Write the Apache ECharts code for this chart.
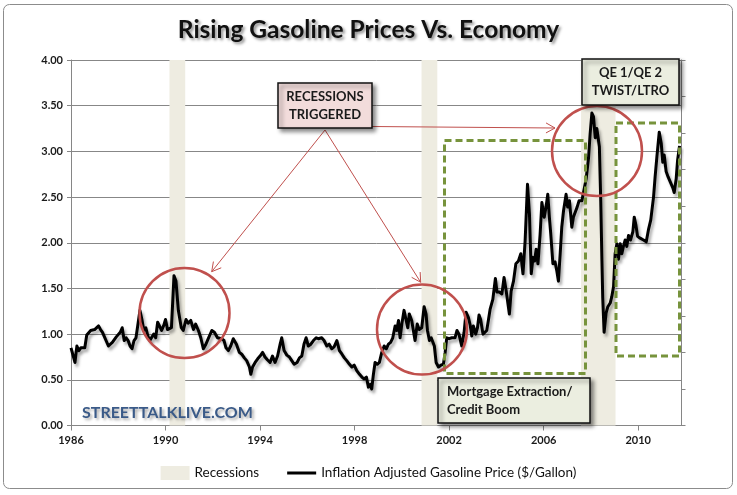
<!DOCTYPE html>
<html><head><meta charset="utf-8">
<script src="https://cdn.jsdelivr.net/npm/echarts@6/dist/echarts.min.js"></script>
<style>html,body{margin:0;padding:0;background:#fff}#c{width:737px;height:495px}</style>
</head><body><div id="c"></div>
<script>
// x values are month indices counted from the first observation (label "1986")
const tickLabels = ['1986','1990','1994','1998','2002','2006','2010'];
const monthsPerTick = 48;
const monthIdx = [0,1,2,3,4,5,7,8,9,10,12,14,15,16,17,19,20,21,23,24,25,26,27,28,29,30,31,32,33,35,36,37,38,39,40,42,43,44,46,47,48,49,51,52.3,53.3,54.5,56,57,58.4,59.5,60.8,62.2,63.3,64.7,65.9,67.2,68.3,69.7,71.5,72.8,74.4,75.3,76.5,77.7,78.7,79.9,81.1,82.4,84,85.5,86.7,88,89.2,90.6,91.3,92.2,93.5,94.8,96,97.3,98.5,99.7,101.1,102.3,103.6,104.9,106.2,107,108.2,109.6,110.9,112.1,113.3,114.8,116,117.2,118.3,119.4,120.5,121.8,123.1,124.5,125.6,127.3,128.5,129.9,131.1,132.4,133.6,135,136.3,137.6,138.8,140,141.4,142.6,143.8,145.1,146.5,147.7,148.8,150,151,152,152.7,153.5,154.4,155.5,156.6,157.8,159,160.1,161.2,162.3,163.4,164.6,165.4,166.3,167.1,168,169.1,170.1,171,171.8,173,173.9,174.7,175.8,176.8,178.1,179.3,180.3,181,182,182.9,183.7,184.5,185.4,186.6,187.8,189.1,190,190.8,192,193.4,195,196,197,198.4,199.6,200.6,201.8,202.7,203.5,204.3,205.5,206.4,207.2,208,209.2,210,211.1,212,212.8,214.2,215.5,216.3,217.5,218.8,219.9,221,222.6,223.5,224.7,225.9,227.2,228.4,229.5,230.6,231.8,232.8,233.7,234.6,235.4,236.2,237.1,238.2,239.1,240.3,241.2,242.1,242.9,243.6,244.7,245.8,246.7,247.5,248.4,249.2,250.1,251.4,252.2,253.1,254.3,255.1,256,257,258,259.4,260.6,261.6,262.8,263.6,264.5,265.3,266.2,267,267.8,268.3,269,269.6,270,270.7,271.7,272.6,273.8,274.6,275.5,276.3,277.2,278,278.9,279.7,280.5,281.4,282.2,283.1,284.1,285.3,286,286.8,287.7,289,290.7,292.1,293.2,294.4,295.8,296.6,297.5,298.7,299.7,300.5,301.2,302.2,303.2,304.2,305.6,306.3,307.3,308,309];
const price = [0.85,0.86,0.69,0.87,0.82,0.85,0.85,0.99,1.00,1.04,1.05,1.09,1.05,1.02,1.04,0.87,0.85,0.91,0.97,0.98,1.02,1.07,0.93,0.96,0.93,0.87,0.84,0.93,0.96,1.26,1.16,1.04,1.07,0.98,0.93,1.00,0.96,1.13,1.04,1.09,1.16,1.05,1.07,1.64,1.58,1.26,1.07,1.04,1.16,1.12,1.15,1.05,1.11,1.04,0.96,0.84,0.88,0.95,1.04,1.02,0.96,0.96,0.95,0.93,0.85,0.82,0.87,0.95,0.89,0.80,0.78,0.74,0.71,0.64,0.56,0.64,0.69,0.73,0.76,0.80,0.75,0.72,0.69,0.76,0.69,0.76,0.89,0.96,0.82,0.77,0.75,0.71,0.67,0.69,0.74,0.76,0.89,0.96,0.87,0.89,0.93,0.96,0.95,0.96,0.93,0.87,0.89,0.84,0.86,0.93,0.82,0.78,0.74,0.71,0.67,0.64,0.66,0.60,0.56,0.53,0.51,0.53,0.42,0.45,0.40,0.55,0.69,0.67,0.69,0.80,0.87,0.84,0.89,0.91,0.96,1.09,1.04,1.15,0.96,1.11,1.26,1.16,1.07,1.22,1.15,1.13,0.93,1.11,1.05,1.07,1.30,1.22,1.04,0.93,0.96,0.98,0.87,0.69,0.64,0.66,0.67,0.80,0.96,0.95,0.96,0.96,1.04,1.00,0.87,1.02,1.24,1.18,1.10,0.98,1.09,1.00,1.07,1.21,1.16,1.00,1.02,1.04,1.16,1.27,1.38,1.61,1.46,1.46,1.44,1.62,1.47,1.22,1.47,1.58,1.77,1.80,1.88,1.66,2.02,2.64,2.31,1.66,1.84,1.80,1.93,1.77,2.09,2.44,2.28,2.39,2.53,2.28,2.10,1.77,1.79,1.69,1.58,1.88,2.17,2.35,2.53,2.39,2.46,2.17,2.28,2.30,2.39,2.46,2.46,2.59,2.70,2.93,3.19,3.42,3.38,3.15,3.25,3.27,3.05,2.45,1.80,1.40,1.02,1.23,1.30,1.34,1.41,1.52,1.88,1.99,1.82,1.99,1.88,1.96,2.03,1.96,2.08,2.03,2.12,2.28,2.20,2.07,2.05,2.03,2.01,2.14,2.25,2.50,2.72,2.94,3.21,3.09,2.88,2.96,2.78,2.72,2.70,2.60,2.55,2.70,2.90,3.06];
const recessionStart = [50, 178, 259];
const recessionEnd = [58, 186, 276.5];
const yTicks = {min: 0, max: 4, interval: 0.5};
const lineName = 'Inflation Adjusted Gasoline Price ($/Gallon)';
const recName = 'Recessions';

const FONT = 'Lato, "Noto Sans", sans-serif';
const chart = echarts.init(document.getElementById('c'), null, {renderer: 'canvas'});

function arrow(x1, y1, x2, y2, color) {
  const dx = x2 - x1, dy = y2 - y1, L = Math.hypot(dx, dy);
  const ux = dx / L, uy = dy / L, px = -uy, py = ux;
  const h = 9, w = 5;
  return [
    {type: 'line', z: 20, shape: {x1, y1, x2, y2}, style: {stroke: color, lineWidth: 1}},
    {type: 'polyline', z: 20, shape: {points: [[x2 - h*ux + w*px, y2 - h*uy + w*py], [x2, y2], [x2 - h*ux - w*px, y2 - h*uy - w*py]]}, style: {stroke: color, lineWidth: 1, fill: null}}
  ];
}
function textBox(x, y, w, h, fill, lines, align) {
  const els = [{type: 'rect', z: 30, shape: {x, y, width: w, height: h}, style: {fill, stroke: '#111', lineWidth: 1.5, shadowBlur: 4, shadowOffsetX: 3, shadowOffsetY: 3, shadowColor: 'rgba(0,0,0,0.45)'}}];
  lines.forEach((t, i) => {
    els.push({type: 'text', z: 31, style: {text: t, x: align === 'left' ? x + 9 : x + w / 2, y: y + 14 + i * 18, textAlign: align === 'left' ? 'left' : 'center', textVerticalAlign: 'middle', font: 'bold 13px ' + FONT, fill: '#1a1a1a'}});
  });
  return els;
}
const red = '#C0504D';
const green = '#77933C';
const graphics = [
  {type: 'rect', z: -1, silent: true, shape: {x: 3.5, y: 4.5, width: 729, height: 484, r: 6}, style: {fill: null, stroke: '#8c8c8c', lineWidth: 1}},
  {type: 'circle', z: 25, shape: {cx: 184.5, cy: 313, r: 45}, style: {fill: null, stroke: red, lineWidth: 2.5}},
  {type: 'circle', z: 25, shape: {cx: 422, cy: 329.5, r: 45}, style: {fill: null, stroke: red, lineWidth: 2.5}},
  {type: 'circle', z: 25, shape: {cx: 597, cy: 151, r: 45}, style: {fill: null, stroke: red, lineWidth: 2.5}},
  {type: 'rect', z: 24, shape: {x: 444.5, y: 140.5, width: 141, height: 233}, style: {fill: null, stroke: green, lineWidth: 3, lineDash: [7, 4]}},
  {type: 'rect', z: 24, shape: {x: 616, y: 123, width: 63.5, height: 233}, style: {fill: null, stroke: green, lineWidth: 3, lineDash: [7, 4]}},
  ...arrow(325, 130, 211.7, 271.7, red),
  ...arrow(325, 130, 420.7, 282.3, red),
  ...arrow(372, 126.5, 555, 128, red),
  ...textBox(278, 83, 94, 45, '#F2DCDB', ['RECESSIONS', 'TRIGGERED'], 'center'),
  ...textBox(438, 378, 152, 45, '#EBEEE0', ['Mortgage Extraction/', 'Credit Boom'], 'left'),
  ...textBox(582, 59, 97, 46, '#EBEEE0', ['QE 1/QE 2', 'TWIST/LTRO'], 'center'),
  {type: 'text', z: 30, style: {text: 'STREETTALKLIVE.COM', x: 82, y: 413, textVerticalAlign: 'middle', font: 'bold 16px ' + FONT, fill: '#3A5A88', textShadowBlur: 3, textShadowOffsetX: 2, textShadowOffsetY: 2, textShadowColor: 'rgba(0,0,0,0.35)'}}
];

const option = {
  animation: false,
  backgroundColor: '#fff',
  title: {
    text: 'Rising Gasoline Prices Vs. Economy', left: 'center', top: 13,
    textStyle: {fontFamily: FONT, fontWeight: 'bold', fontSize: 24.5, color: '#111', textShadowColor: 'rgba(0,0,0,0.45)', textShadowBlur: 3, textShadowOffsetX: 2, textShadowOffsetY: 2}
  },
  legend: {
    top: 461, left: 'center', itemGap: 28, itemWidth: 29, itemHeight: 14,
    textStyle: {fontFamily: FONT, fontSize: 13.5, color: '#111'},
    data: [
      {name: recName, icon: 'rect'},
      {name: lineName, icon: 'path://M0,0L0.01,0L0.01,0.01ZM0,5.5L29,5.5L29,8.5L0,8.5ZM28.99,13.99L29,13.99L29,14Z'}
    ]
  },
  grid: {left: 71, right: 55.5, top: 60, bottom: 69.5, containLabel: false},
  xAxis: {
    type: 'value', min: 0, max: 310, interval: monthsPerTick,
    axisLine: {show: true, lineStyle: {color: '#868686'}},
    axisTick: {show: true, length: 5, lineStyle: {color: '#868686'}},
    splitLine: {show: false},
    axisLabel: {margin: 9, fontFamily: FONT, fontWeight: 'bold', fontSize: 11, color: '#1a1a1a', showMaxLabel: false,
      formatter: v => (v % monthsPerTick === 0 ? (tickLabels[v / monthsPerTick] || '') : '')}
  },
  yAxis: [{
    type: 'value', min: yTicks.min, max: yTicks.max, interval: yTicks.interval,
    axisLine: {show: true, lineStyle: {color: '#868686'}},
    axisTick: {show: true, length: 4, lineStyle: {color: '#868686'}},
    splitLine: {show: true, lineStyle: {color: '#878787', width: 1}},
    axisLabel: {margin: 8, fontFamily: FONT, fontWeight: 'bold', fontSize: 11, color: '#1a1a1a', formatter: v => v.toFixed(2)}
  }, {
    type: 'value', min: 0, max: 1, interval: 0.1, position: 'right',
    axisLine: {show: true, lineStyle: {color: '#868686'}},
    axisTick: {show: true, length: 4, lineStyle: {color: '#868686'}},
    splitLine: {show: false}, axisLabel: {show: false}
  }],
  series: [{
    name: recName, type: 'line', data: [], symbol: 'none',
    itemStyle: {color: '#EEECE1'}, lineStyle: {color: '#EEECE1'},
    markArea: {silent: true, itemStyle: {color: '#EEECE1'},
      data: recessionStart.map((s, i) => [{xAxis: s}, {xAxis: recessionEnd[i]}])}
  }, {
    name: lineName, type: 'line', z: 5, symbol: 'none', showSymbol: false,
    data: monthIdx.map((m, i) => [m, price[i]]),
    itemStyle: {color: '#000'},
    lineStyle: {color: '#000', width: 3, join: 'round', shadowColor: 'rgba(0,0,0,0.35)', shadowBlur: 3, shadowOffsetX: 2, shadowOffsetY: 3}
  }],
  graphic: graphics
};
chart.setOption(option);
</script></body></html>
